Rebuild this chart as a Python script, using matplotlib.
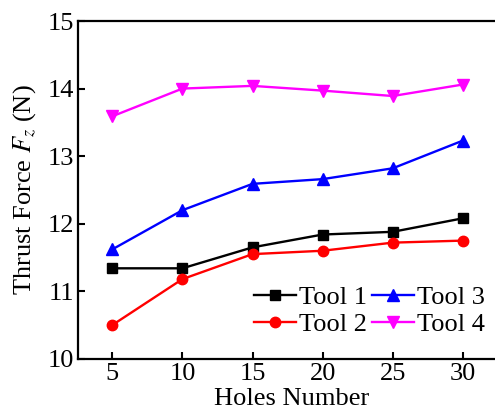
import matplotlib
matplotlib.use("Agg")
import matplotlib.pyplot as plt

# Data
holes = [5, 10, 15, 20, 25, 30]
tool1 = [11.34, 11.34, 11.65, 11.84, 11.88, 12.08]
tool2 = [10.50, 11.18, 11.55, 11.60, 11.72, 11.75]
tool3 = [11.62, 12.20, 12.59, 12.66, 12.82, 13.23]
tool4 = [13.59, 14.00, 14.04, 13.97, 13.89, 14.06]
labels = ["Tool 1", "Tool 2", "Tool 3", "Tool 4"]
yticks = [10, 11, 12, 13, 14, 15]
xticks = [5, 10, 15, 20, 25, 30]

plt.rcParams["font.family"] = ["Liberation Serif", "DejaVu Serif"]
plt.rcParams["mathtext.fontset"] = "stix"

fig = plt.figure(figsize=(4.95, 4.12), dpi=100)
# right edge of the axes sits just outside the image, as in the reference
ax = fig.add_axes([0.158, 0.129, 0.862, 0.820])

lw = 1.7
ax.plot(holes, tool1, color="black", marker="s", ms=6.5, lw=lw, label=labels[0])
ax.plot(holes, tool2, color="#ff0000", marker="o", ms=7.5, lw=lw, label=labels[1])
ax.plot(holes, tool3, color="#0000ff", marker="^", ms=8, lw=lw, label=labels[2])
ax.plot(holes, tool4, color="#ff00ff", marker="v", ms=8, lw=lw, label=labels[3])

ax.set_xlim(2.57, 33.0)
ax.set_ylim(10, 15)
ax.set_xticks(xticks)
ax.set_yticks(yticks)
ax.tick_params(direction="in", length=5, width=1.5, labelsize=19, pad=3)

for s in ax.spines.values():
    s.set_linewidth(1.6)

ax.set_xlabel("Holes Number", fontsize=19, labelpad=2)
ax.set_ylabel(r"Thrust Force $F_z$ (N)", fontsize=19, labelpad=7)

ax.legend(loc="lower right", bbox_to_anchor=(0.99, 0.02), ncol=2, frameon=False,
          fontsize=19, handlelength=1.6, handletextpad=0.1, columnspacing=0.2,
          labelspacing=0.15, borderpad=0.1)

fig.savefig("out.png", dpi=100)
